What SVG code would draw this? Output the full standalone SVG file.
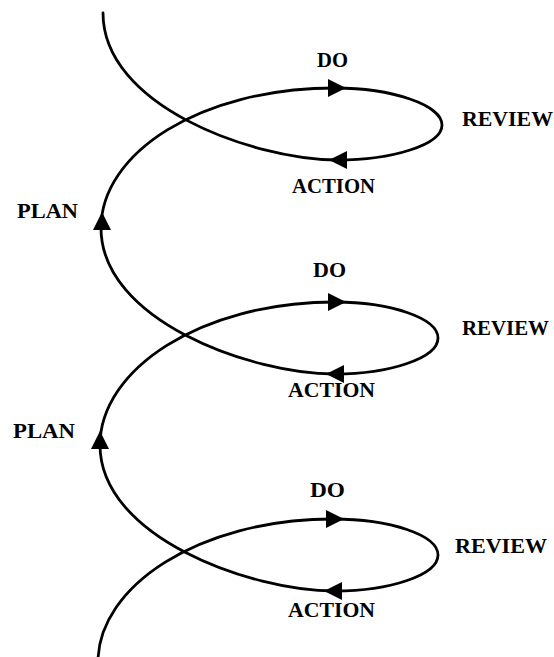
<svg xmlns="http://www.w3.org/2000/svg" width="554" height="657" viewBox="0 0 554 657">
<style>
.lbl{font-family:"Liberation Serif","Times New Roman",serif;font-weight:bold;font-size:22px;fill:#000}
.curve{fill:none;stroke:#000;stroke-width:2.8;stroke-linecap:round;stroke-linejoin:round}
.ah{fill:#000}
</style>
<defs>
<polygon id="arrow" points="0,0 -18,-9 -18,9"/>
</defs>
<rect width="554" height="657" fill="#fff"/>
<g id="connectors">
<path class="curve" d="M98,662 C98,587 198,519 333,519 C390,519 438,535 438,555 C438,575 390,591 335,591 C250,591 100,537 100,445 C100,370 200,302 335,302 C390,302 438,318 438,338 C438,358 390,374 335,374 C250,374 101,320 101,228 C101,153 200,88 335,88 C392,88 442,105 442,125 C442,145 392,160 337,160 C250,159 103,105 103,13"/>
<use href="#arrow" class="ah" transform="translate(346,88)"/>
<use href="#arrow" class="ah" transform="translate(329,160) rotate(180)"/>
<use href="#arrow" class="ah" transform="translate(102,212) rotate(-90)"/>
<use href="#arrow" class="ah" transform="translate(346,302)"/>
<use href="#arrow" class="ah" transform="translate(326,374) rotate(180)"/>
<use href="#arrow" class="ah" transform="translate(100,431) rotate(-90)"/>
<use href="#arrow" class="ah" transform="translate(344,519)"/>
<use href="#arrow" class="ah" transform="translate(324,591) rotate(180)"/>
</g>
<g id="do1"><text class="lbl" x="317" y="67" textLength="31" lengthAdjust="spacingAndGlyphs">DO</text></g>
<g id="review1"><text class="lbl" x="462" y="126" textLength="91" lengthAdjust="spacingAndGlyphs">REVIEW</text></g>
<g id="action1"><text class="lbl" x="292" y="193" textLength="83" lengthAdjust="spacingAndGlyphs">ACTION</text></g>
<g id="plan1"><text class="lbl" x="17" y="218" textLength="61" lengthAdjust="spacingAndGlyphs">PLAN</text></g>
<g id="do2"><text class="lbl" x="313" y="277" textLength="33" lengthAdjust="spacingAndGlyphs">DO</text></g>
<g id="review2"><text class="lbl" x="462" y="335" textLength="87" lengthAdjust="spacingAndGlyphs">REVIEW</text></g>
<g id="action2"><text class="lbl" x="288" y="397" textLength="87" lengthAdjust="spacingAndGlyphs">ACTION</text></g>
<g id="plan2"><text class="lbl" x="13" y="438" textLength="62" lengthAdjust="spacingAndGlyphs">PLAN</text></g>
<g id="do3"><text class="lbl" x="310" y="497" textLength="35" lengthAdjust="spacingAndGlyphs">DO</text></g>
<g id="review3"><text class="lbl" x="455" y="553" textLength="92" lengthAdjust="spacingAndGlyphs">REVIEW</text></g>
<g id="action3"><text class="lbl" x="288" y="617" textLength="87" lengthAdjust="spacingAndGlyphs">ACTION</text></g>
</svg>
